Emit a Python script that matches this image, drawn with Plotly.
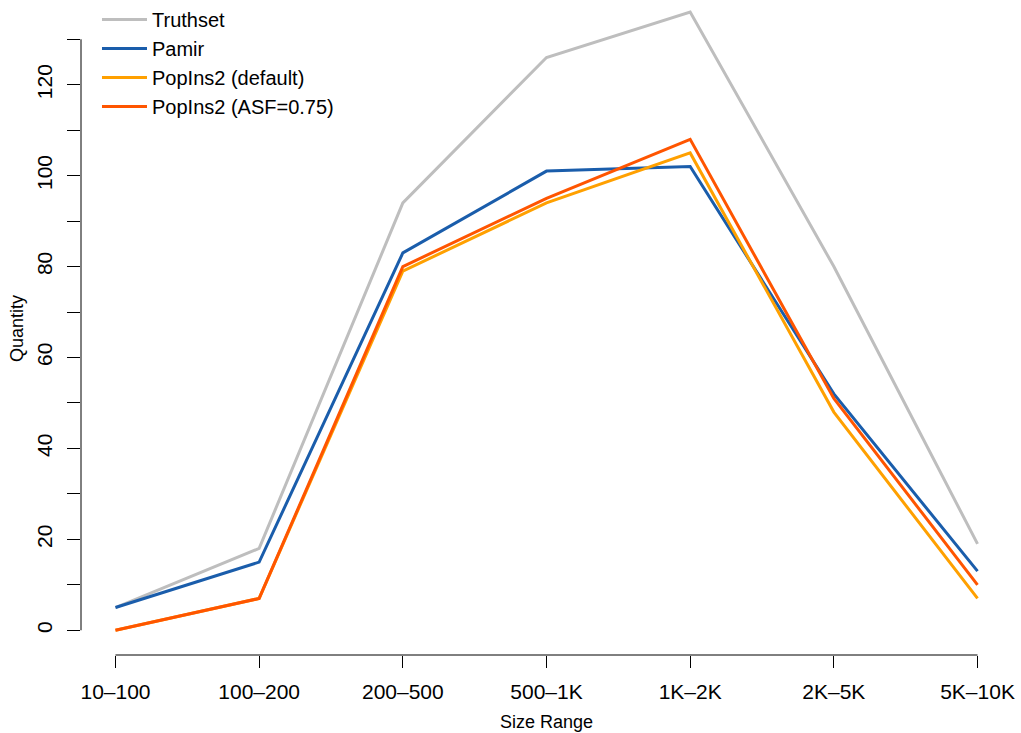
import plotly.graph_objects as go

categories = ["10\u2013100", "100\u2013200", "200\u2013500", "500\u20131K", "1K\u20132K", "2K\u20135K", "5K\u201310K"]
truthset = [5, 18, 94, 126, 136, 80, 19]
pamir = [5, 15, 83, 101, 102, 52, 13]
popins_default = [0, 7, 79, 94, 105, 48, 7]
popins_asf = [0, 7, 80, 95, 108, 51, 10]

series = [
    ("Truthset", truthset, "#BEBEBE"),
    ("Pamir", pamir, "#1A5DAB"),
    ("PopIns2 (default)", popins_default, "#FFA000"),
    ("PopIns2 (ASF=0.75)", popins_asf, "#FF5500"),
]

y_ticks = list(range(0, 131, 10))
y_ticktext = [str(v) if v % 20 == 0 else "" for v in y_ticks]

W, H = 1021, 733
L, R, T, B = 81, 8.5, 0, 78
pw, ph = W - L - R, H - T - B

def px_x(p):
    return (p - L) / pw

def px_y(p):
    return (H - B - p) / ph

FONT = "Liberation Sans, Arial, Helvetica, sans-serif"

fig = go.Figure()
for name, vals, col in series:
    fig.add_trace(go.Scatter(x=categories, y=vals, mode="lines", name=name,
                             line=dict(color=col, width=3)))

fig.update_layout(
    width=W, height=H, template="none",
    paper_bgcolor="white", plot_bgcolor="white",
    margin=dict(l=L, r=R, t=T, b=B, pad=0),
    font=dict(family=FONT, size=20, color="black"),
    showlegend=True,
    legend=dict(x=px_x(97), y=px_y(-2), xanchor="left", yanchor="top",
                bgcolor="rgba(0,0,0,0)", borderwidth=0,
                font=dict(size=20, family=FONT), tracegroupgap=0,
                itemwidth=45),
    xaxis=dict(type="category", range=[-0.24, 6.24], showgrid=False, zeroline=False,
               showline=False, ticks="outside", ticklen=12, tickwidth=1, tickcolor="black",
               tickfont=dict(size=21, family=FONT), automargin=False, ticklabelstandoff=6,
               title=dict(text="Size Range", font=dict(size=18, family=FONT), standoff=13)),
    yaxis=dict(range=[-5.44, 138.2], showgrid=False, zeroline=False, showline=False,
               tickmode="array", tickvals=y_ticks, ticktext=y_ticktext,
               ticks="outside", ticklen=13, tickwidth=1, tickcolor="black",
               tickangle=-90, tickfont=dict(size=21, family=FONT), automargin=False,
               ticklabelstandoff=7,
               title=dict(text="Quantity", font=dict(size=18, family=FONT), standoff=4)),
)

fig.add_shape(type="line", xref="paper", yref="y", x0=0, x1=0, y0=y_ticks[0], y1=y_ticks[-1],
              line=dict(color="black", width=1))
fig.add_shape(type="line", xref="x", yref="paper", x0=categories[0], x1=categories[-1], y0=0, y1=0,
              line=dict(color="black", width=1))

fig.write_html("out.html")
